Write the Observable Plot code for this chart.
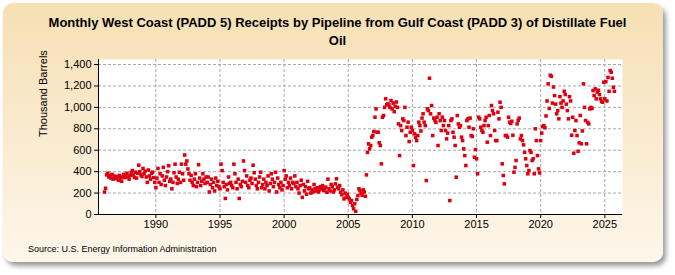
<!DOCTYPE html>
<html><head><meta charset="utf-8">
<script src="https://cdn.jsdelivr.net/npm/d3@7"></script>
<script src="https://cdn.jsdelivr.net/npm/@observablehq/plot@0.6"></script>
<style>
body{margin:0;background:#fff;width:675px;height:275px;overflow:hidden;font-family:"Liberation Sans",Arial,sans-serif;position:relative;}
#panel{position:absolute;left:3px;top:3px;width:660px;height:259px;border-radius:10px;background:linear-gradient(#f6dfb3,#fdf6ea);box-shadow:3px 4px 5px #9a9a9a;}
#title{position:absolute;left:0;width:675px;top:14px;text-align:center;font-weight:bold;font-size:13px;line-height:18px;color:#000;}
#chart{position:absolute;left:0;top:50px;}
#source{position:absolute;left:28px;top:244px;font-size:9px;color:#000;}
</style></head><body>
<div id="panel"></div>
<div id="title">Monthly West Coast (PADD 5) Receipts by Pipeline from Gulf Coast (PADD 3) of Distillate Fuel<br>Oil</div>
<div id="chart"></div>
<div id="source">Source: U.S. Energy Information Administration</div>
<script>
// Monthly values, thousand barrels (Jan..Dec)
const v1986 = [210, 245, 370, 385, 350, 365, 340, 375, 330, 360, 345, 335];
const v1987 = [355, 320, 365, 340, 310, 350, 375, 345, 360, 385, 350, 330];
const v1988 = [365, 390, 410, 370, 345, 395, 340, 385, 460, 400, 370, 355];
const v1989 = [430, 380, 405, 350, 300, 415, 360, 330, 385, 395, 345, 300];
const v1990 = [250, 340, 430, 300, 380, 280, 360, 440, 320, 270, 350, 400];
const v1991 = [455, 310, 330, 240, 300, 390, 470, 350, 290, 330, 395, 300];
const v1992 = [470, 380, 320, 555, 470, 500, 425, 380, 320, 365, 300, 270];
const v1993 = [330, 380, 260, 300, 465, 340, 270, 310, 380, 330, 290, 350];
const v1994 = [300, 350, 210, 280, 330, 250, 300, 220, 340, 270, 310, 260];
const v1995 = [240, 470, 410, 300, 260, 150, 280, 230, 350, 290, 300, 270];
const v1996 = [250, 470, 380, 300, 240, 330, 150, 280, 260, 310, 500, 410];
const v1997 = [300, 360, 270, 250, 320, 340, 290, 460, 390, 330, 270, 240];
const v1998 = [300, 350, 395, 250, 280, 330, 240, 300, 270, 360, 220, 290];
const v1999 = [380, 330, 260, 300, 395, 210, 340, 280, 250, 300, 230, 270];
const v2000 = [410, 330, 360, 250, 300, 270, 340, 240, 300, 290, 360, 260];
const v2001 = [300, 240, 200, 270, 320, 160, 280, 220, 260, 190, 310, 240];
const v2002 = [250, 200, 230, 210, 280, 240, 220, 250, 210, 230, 260, 240];
const v2003 = [270, 224, 240, 255, 208, 330, 240, 220, 280, 260, 210, 230];
const v2004 = [286, 333, 255, 240, 270, 208, 184, 230, 146, 200, 160, 190];
const v2005 = [160, 146, 115, 130, 84, 53, 100, 30, 140, 177, 240, 224];
const v2006 = [200, 180, 230, 210, 170, 370, 580, 660, 613, 644, 722, 737];
const v2007 = [775, 908, 986, 768, 768, 670, 644, 473, 908, 924, 1000, 1080];
const v2008 = [1024, 1033, 1024, 1000, 1064, 986, 1040, 960, 1010, 1050, 1000, 846];
const v2009 = [550, 830, 784, 893, 877, 1000, 737, 815, 862, 681, 768, 815];
const v2010 = [784, 457, 753, 720, 690, 737, 862, 830, 780, 900, 940, 862];
const v2011 = [830, 317, 986, 970, 1272, 940, 1017, 737, 900, 880, 860, 908];
const v2012 = [644, 940, 877, 784, 908, 830, 877, 784, 706, 760, 830, 130];
const v2013 = [877, 893, 768, 722, 644, 348, 924, 846, 815, 830, 722, 690];
const v2014 = [613, 550, 457, 877, 893, 815, 900, 737, 728, 800, 535, 606];
const v2015 = [520, 380, 908, 893, 815, 784, 768, 830, 877, 908, 675, 830];
const v2016 = [924, 737, 1017, 970, 940, 784, 690, 690, 955, 893, 1048, 1000];
const v2017 = [473, 364, 286, 737, 737, 722, 908, 862, 850, 870, 740, 395];
const v2018 = [440, 504, 846, 880, 900, 706, 737, 690, 650, 580, 520, 457];
const v2019 = [380, 410, 597, 580, 504, 520, 380, 800, 690, 550, 426, 389];
const v2020 = [690, 760, 820, 830, 810, 920, 1060, 1220, 990, 1300, 1290, 1040];
const v2021 = [1190, 1110, 1030, 940, 970, 893, 1100, 1040, 1000, 1060, 1150, 1120];
const v2022 = [1030, 970, 893, 1100, 1060, 740, 908, 572, 784, 877, 737, 590];
const v2023 = [669, 924, 660, 780, 1220, 1000, 877, 660, 860, 846, 986, 1000];
const v2024 = [990, 1157, 1110, 1173, 1080, 1142, 1160, 1120, 1080, 1055, 1048, 1235];
const v2025 = [1080, 1240, 1060, 1280, 1150, 1344, 1328, 1272, 1188, 1150];

const years = [1986,1987,1988,1989,1990,1991,1992,1993,1994,1995,1996,1997,1998,1999,2000,2001,2002,2003,2004,2005,2006,2007,2008,2009,2010,2011,2012,2013,2014,2015,2016,2017,2018,2019,2020,2021,2022,2023,2024,2025];
const series = [v1986,v1987,v1988,v1989,v1990,v1991,v1992,v1993,v1994,v1995,v1996,v1997,v1998,v1999,v2000,v2001,v2002,v2003,v2004,v2005,v2006,v2007,v2008,v2009,v2010,v2011,v2012,v2013,v2014,v2015,v2016,v2017,v2018,v2019,v2020,v2021,v2022,v2023,v2024,v2025];
const xTicks = [1990, 1995, 2000, 2005, 2010, 2015, 2020, 2025];
const yTicks = [0, 200, 400, 600, 800, 1000, 1200, 1400];

const data = [];
years.forEach((yr, i) => series[i].forEach((v, m) => data.push({t: yr + m / 12, v})));

const chart = Plot.plot({
  width: 675, height: 190,
  marginLeft: 98, marginRight: 53, marginTop: 9, marginBottom: 26,
  x: {domain: [1985.53, 2026.38]},
  y: {domain: [0, 1447]},
  style: {background: "transparent", fontFamily: "'Liberation Sans', Arial, sans-serif", fontSize: "11px", color: "#000"},
  marks: [
    Plot.frame({fill: "white", stroke: null}),
    Plot.gridX(xTicks, {stroke: "#a8a8a8", strokeOpacity: 1, strokeDasharray: "3,2"}),
    Plot.gridY(yTicks.filter(d => d > 0), {stroke: "#a8a8a8", strokeOpacity: 1, strokeDasharray: "3,2"}),
    Plot.dot(data, {x: "t", y: "v", symbol: "square", r: 2, fill: "#dd0011", stroke: null}),
    Plot.ruleY([0], {stroke: "#000"}),
    Plot.ruleX([1985.53], {stroke: "#000"}),
    Plot.axisX(xTicks, {tickFormat: d => String(d), tickSize: 4, tickPadding: 2, label: null}),
    Plot.axisY(yTicks, {tickFormat: d3.format(","), tickSize: 4, tickPadding: 3, label: null}),
    Plot.text(["Thousand Barrels"], {frameAnchor: "left", dx: -55, rotate: -90, fontSize: 11})
  ]
});
document.getElementById("chart").appendChild(chart);
</script>
</body></html>
